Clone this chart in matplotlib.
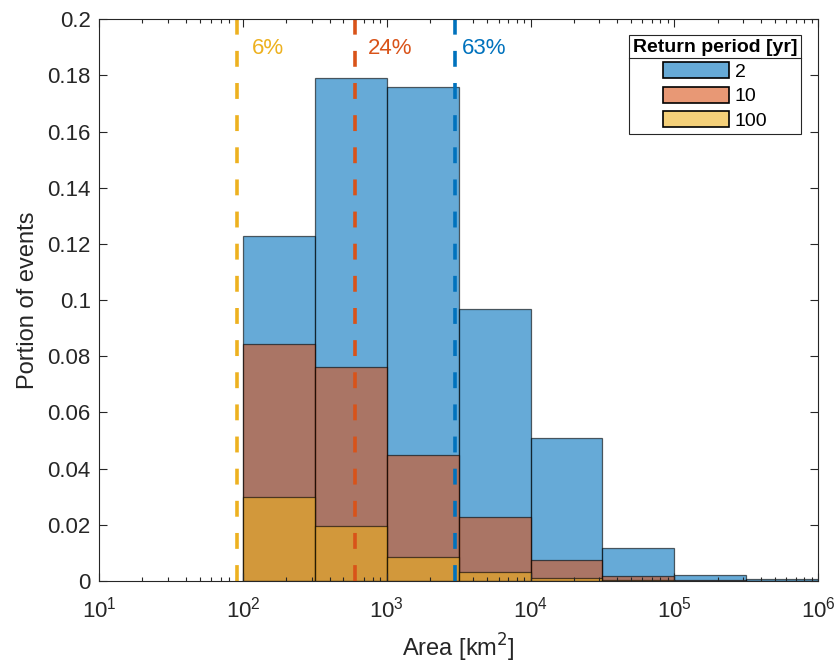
import matplotlib

matplotlib.use("Agg")
import matplotlib.pyplot as plt
import numpy as np
from matplotlib.patches import Patch
from matplotlib.ticker import FuncFormatter, LogLocator, NullFormatter

plt.rcParams["font.family"] = ["Liberation Sans", "DejaVu Sans"]

# half-decade bin edges (km^2)
bin_exponents = [2.0, 2.5, 3.0, 3.5, 4.0, 4.5, 5.0, 5.5, 6.0]
return_periods = ["2", "10", "100"]
portion_2yr = [0.1228, 0.179, 0.176, 0.0968, 0.0509, 0.0117, 0.0022, 0.0007]
portion_10yr = [0.0843, 0.0762, 0.0448, 0.0228, 0.0075, 0.0018, 0.0004, 0.0]
portion_100yr = [0.0299, 0.0196, 0.0085, 0.0032, 0.0010, 0.0003, 0.0, 0.0]
threshold_area = [91, 600, 2990]  # km^2, order: 100 yr, 10 yr, 2 yr
threshold_text = ["6%", "24%", "63%"]

# label anchor x (km^2) for each percentage text
label_x = [116, 743, 3340]

colors = ["#0072BD", "#D95319", "#EDB120"]

edges = 10.0 ** np.array(bin_exponents)
left = edges[:-1]
widths = np.diff(edges)

fig = plt.figure(figsize=(8.4, 6.63), dpi=100)
ax = fig.add_axes([0.118, 0.1237, 0.856, 0.8473])

for vals, c, lab in zip([portion_2yr, portion_10yr, portion_100yr], colors, return_periods):
    ax.bar(left, vals, width=widths, align="edge", color=c, alpha=0.6,
           edgecolor="black", linewidth=0.9, label=lab)

for xv, lx, txt, c in zip(threshold_area, label_x, threshold_text, colors[::-1]):
    ax.axvline(xv, color=c, linestyle=(0, (4.4, 4.5)), linewidth=2.6)
    ax.text(lx, 0.1897, txt, color=c, fontsize=16, va="center", ha="left")

ax.set_xscale("log")
ax.set_xlim(10, 1e6)
ax.set_ylim(0, 0.2)
ax.set_yticks(np.arange(0, 0.201, 0.02))
ax.yaxis.set_major_formatter(FuncFormatter(lambda v, p: f"{v:.2f}".rstrip("0").rstrip(".") if v else "0"))
ax.xaxis.set_major_locator(LogLocator(base=10, numticks=10))
ax.xaxis.set_minor_locator(LogLocator(base=10, subs=np.arange(2, 10), numticks=20))
ax.xaxis.set_minor_formatter(NullFormatter())
ax.tick_params(which="both", direction="in", top=True, right=True, colors="#262626",
               labelsize=16, width=0.8)
ax.tick_params(which="major", length=6)
ax.tick_params(which="minor", length=3)
ax.tick_params(axis="y", pad=6)
ax.tick_params(axis="x", pad=11)
for s in ax.spines.values():
    s.set_color("#262626")
    s.set_linewidth(0.8)

ax.set_xlabel("Area [km$^2$]", fontsize=17, color="#262626", labelpad=7)
ax.set_ylabel("Portion of events", fontsize=17, color="#262626", labelpad=6)

handles = [Patch(facecolor=c, alpha=0.6, edgecolor="black", linewidth=1.2) for c in colors]
handles = [Patch(facecolor=h.get_facecolor(), edgecolor="black", linewidth=1.2) for h in handles]
leg = ax.legend(handles, return_periods, title="Return period [yr]", loc="upper right",
                bbox_to_anchor=(0.9766, 0.9715), borderaxespad=0, fontsize=14,
                handlelength=3.4, handleheight=0.9, handletextpad=0.3, labelspacing=0.3,
                borderpad=0.2, fancybox=False, edgecolor="#262626", framealpha=1,
                alignment="center", title_fontproperties={"weight": "bold", "size": 14})
leg.get_frame().set_linewidth(0.8)

fig.canvas.draw()
frame_bb = leg.get_frame().get_window_extent()
title_bb = leg.get_title().get_window_extent()
y_sep = title_bb.y0 - 2
inv = fig.transFigure.inverted()
(x0, ys), (x1, _) = inv.transform([(frame_bb.x0, y_sep), (frame_bb.x1, y_sep)])
fig.add_artist(plt.Line2D([x0, x1], [ys, ys], color="#262626", linewidth=0.8,
                          transform=fig.transFigure))

fig.savefig("out.png", dpi=100)
